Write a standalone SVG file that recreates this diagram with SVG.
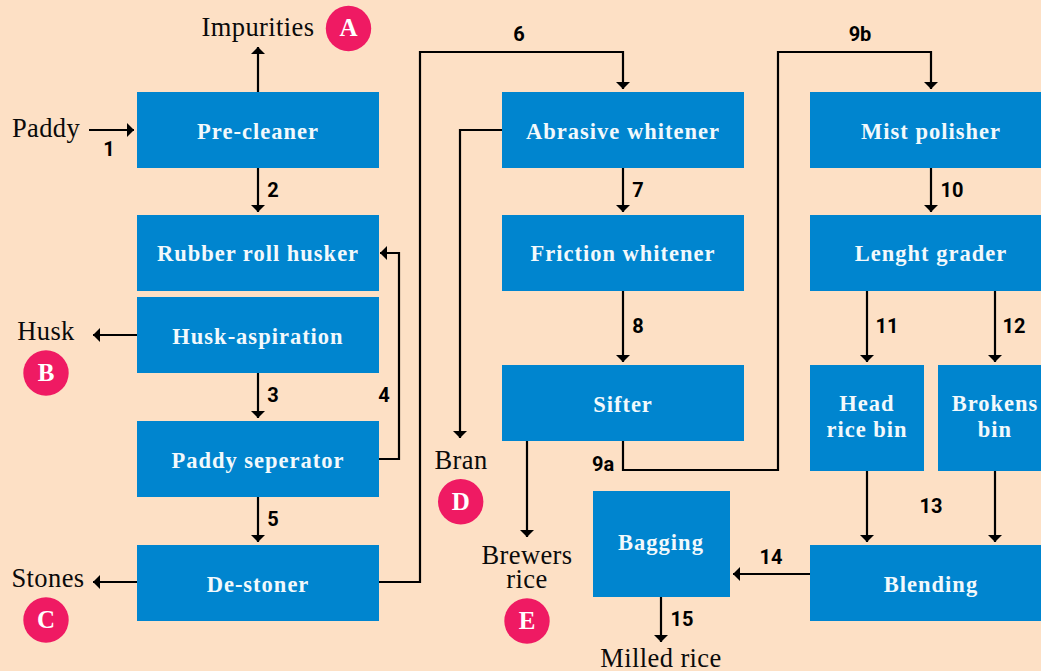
<svg xmlns="http://www.w3.org/2000/svg" width="1041" height="671" viewBox="0 0 1041 671">
<style>
.bx{fill:#0085cf}
.bt{font:bold 22.5px "Liberation Serif",serif;fill:#f2f9fc;text-anchor:middle;letter-spacing:1px}
.lb{font:26.5px "Liberation Serif",serif;fill:#0a0a0a;text-anchor:middle;letter-spacing:.4px}
.n{font:bold 20px Roboto,sans-serif;fill:#000;text-anchor:middle}
.c{fill:#ef1a63}
.ct{font:bold 25px "Liberation Serif",serif;fill:#fff;text-anchor:middle}
.w{fill:none;stroke:#000;stroke-width:2.2}
</style>
<defs><marker id="a" markerUnits="userSpaceOnUse" markerWidth="14" markerHeight="14" refX="13" refY="7" orient="auto"><path d="M6 0L13 7L6 14Z" fill="#000"/></marker></defs>
<rect width="1041" height="671" fill="#fde0c5"/>
<g id="connectors">
<path class="w" marker-end="url(#a)" d="M258 92V47"/>
<path class="w" marker-end="url(#a)" d="M89 130H134"/>
<path class="w" marker-end="url(#a)" d="M258 168V212"/>
<path class="w" marker-end="url(#a)" d="M137 335H93"/>
<path class="w" marker-end="url(#a)" d="M258 373V418"/>
<path class="w" marker-end="url(#a)" d="M379 459H399V253H380"/>
<path class="w" marker-end="url(#a)" d="M258 497V542"/>
<path class="w" marker-end="url(#a)" d="M137 582H93"/>
<path class="w" marker-end="url(#a)" d="M379 582H420V52H623V89"/>
<path class="w" marker-end="url(#a)" d="M502 130H460V438"/>
<path class="w" marker-end="url(#a)" d="M623 168V212"/>
<path class="w" marker-end="url(#a)" d="M623 291V362"/>
<path class="w" marker-end="url(#a)" d="M527 441V537"/>
<path class="w" marker-end="url(#a)" d="M623 441V470H778V52H931V89"/>
<path class="w" marker-end="url(#a)" d="M931 168V212"/>
<path class="w" marker-end="url(#a)" d="M867 291V362"/>
<path class="w" marker-end="url(#a)" d="M995 291V362"/>
<path class="w" marker-end="url(#a)" d="M867 471V542"/>
<path class="w" marker-end="url(#a)" d="M995 471V542"/>
<path class="w" marker-end="url(#a)" d="M810 574H733"/>
<path class="w" marker-end="url(#a)" d="M661 597V642"/>
</g>
<g id="n-precleaner"><rect class="bx" x="137" y="92" width="242" height="76"/><text class="bt" x="258" y="139">Pre-cleaner</text></g>
<g id="n-husker"><rect class="bx" x="137" y="215" width="242" height="76"/><text class="bt" x="258" y="261">Rubber roll husker</text></g>
<g id="n-aspiration"><rect class="bx" x="137" y="297" width="242" height="76"/><text class="bt" x="258" y="344">Husk-aspiration</text></g>
<g id="n-separator"><rect class="bx" x="137" y="421" width="242" height="76"/><text class="bt" x="258" y="468">Paddy seperator</text></g>
<g id="n-destoner"><rect class="bx" x="137" y="545" width="242" height="76"/><text class="bt" x="258" y="592">De-stoner</text></g>
<g id="n-abrasive"><rect class="bx" x="502" y="92" width="242" height="76"/><text class="bt" x="623" y="139">Abrasive whitener</text></g>
<g id="n-friction"><rect class="bx" x="502" y="215" width="242" height="76"/><text class="bt" x="623" y="261">Friction whitener</text></g>
<g id="n-sifter"><rect class="bx" x="502" y="365" width="242" height="76"/><text class="bt" x="623" y="412">Sifter</text></g>
<g id="n-mist"><rect class="bx" x="810" y="92" width="242" height="76"/><text class="bt" x="931" y="139">Mist polisher</text></g>
<g id="n-grader"><rect class="bx" x="810" y="215" width="242" height="76"/><text class="bt" x="931" y="261">Lenght grader</text></g>
<g id="n-head"><rect class="bx" x="810" y="365" width="114" height="106"/><text class="bt" x="867" y="411">Head</text><text class="bt" x="867" y="437">rice bin</text></g>
<g id="n-brokens"><rect class="bx" x="938" y="365" width="114" height="106"/><text class="bt" x="995" y="411">Brokens</text><text class="bt" x="995" y="437">bin</text></g>
<g id="n-blending"><rect class="bx" x="810" y="545" width="242" height="76"/><text class="bt" x="931" y="592">Blending</text></g>
<g id="n-bagging"><rect class="bx" x="593" y="491" width="137" height="106"/><text class="bt" x="661" y="550">Bagging</text></g>
<g id="labels">
<text class="lb" x="258" y="36">Impurities</text>
<text class="lb" x="46" y="137">Paddy</text>
<text class="lb" x="46" y="340">Husk</text>
<text class="lb" x="48" y="587">Stones</text>
<text class="lb" x="461" y="469">Bran</text>
<text class="lb" x="527" y="564">Brewers</text>
<text class="lb" x="527" y="588">rice</text>
<text class="lb" x="661" y="667">Milled rice</text>
<text class="n" x="109" y="156">1</text>
<text class="n" x="273" y="197">2</text>
<text class="n" x="273" y="402">3</text>
<text class="n" x="384" y="402">4</text>
<text class="n" x="273" y="526">5</text>
<text class="n" x="519" y="41">6</text>
<text class="n" x="638" y="197">7</text>
<text class="n" x="638" y="333">8</text>
<text class="n" x="603" y="471">9a</text>
<text class="n" x="860" y="41">9b</text>
<text class="n" x="952" y="197">10</text>
<text class="n" x="887" y="333">11</text>
<text class="n" x="1014" y="333">12</text>
<text class="n" x="931" y="513">13</text>
<text class="n" x="771" y="564">14</text>
<text class="n" x="682" y="626">15</text>
</g>
<g id="badge-a"><circle class="c" cx="348.500" cy="28.500" r="22.700"/><text class="ct" x="348.500" y="36">A</text></g>
<g id="badge-b"><circle class="c" cx="46" cy="373" r="22.700"/><text class="ct" x="46" y="381">B</text></g>
<g id="badge-c"><circle class="c" cx="46" cy="620" r="22.700"/><text class="ct" x="46" y="628">C</text></g>
<g id="badge-d"><circle class="c" cx="460.700" cy="501.700" r="22.700"/><text class="ct" x="460.700" y="509.500">D</text></g>
<g id="badge-e"><circle class="c" cx="527" cy="621" r="22.700"/><text class="ct" x="527" y="629">E</text></g>
</svg>
